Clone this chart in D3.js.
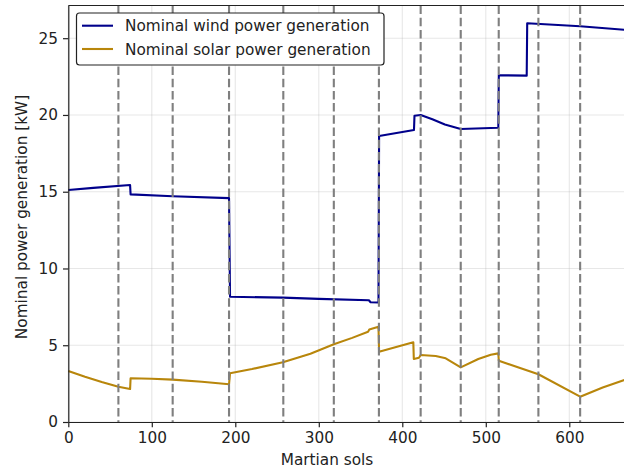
<!doctype html>
<html lang=en>
<head>
  <meta charset="utf-8">
  <title>Nominal power generation</title>
  <style>
body {
  margin: 0;
  background: white;
}
svg text {
  font-family: "DejaVu Sans", sans-serif;
  fill: #222;
}
  </style>
</head>
<body>
<div id=content></div>

<script src="https://cdnjs.cloudflare.com/ajax/libs/d3/7.8.5/d3.min.js"></script>
<script>

  // wind power, sols and kW (vertical jumps are two points at almost the same sol)
  var windSols = [0, 30, 74, 74.6, 125, 192.5, 193.7, 257, 300, 360, 362, 371.5, 372.2, 414, 414.6, 422, 436, 451, 470, 515, 515.6, 549, 549.6, 613, 669];
  var windKW   = [15.11, 15.25, 15.44, 14.83, 14.70, 14.58, 8.16, 8.10, 8.02, 7.93, 7.80, 7.78, 18.63, 19.02, 19.95, 20.0, 19.72, 19.38, 19.09, 19.17, 22.59, 22.56, 25.97, 25.78, 25.54];

  // solar power
  var solarSols = [0, 20, 40, 60, 74, 74.6, 100, 125, 160, 192.5, 193.7, 220, 257, 290, 318, 340, 359, 360.5, 371.5, 372.2, 413.2, 413.8, 420, 422, 440, 452, 470, 491, 506, 515, 515.6, 563, 613, 640, 669];
  var solarKW   = [3.32, 2.94, 2.60, 2.30, 2.15, 2.85, 2.82, 2.76, 2.62, 2.46, 3.18, 3.45, 3.89, 4.45, 5.06, 5.48, 5.88, 6.02, 6.21, 4.57, 5.19, 4.10, 4.18, 4.36, 4.30, 4.15, 3.56, 4.10, 4.38, 4.47, 3.99, 3.11, 1.65, 2.25, 2.80];

  // month boundaries (sols)
  var monthSols = [60, 125, 192.5, 257.5, 318, 372, 422, 470, 515.5, 563, 613];

  var xTicks = [0, 100, 200, 300, 400, 500, 600];
  var yTicks = [0, 5, 10, 15, 20, 25];

  var seriesNames = ["Nominal wind power generation", "Nominal solar power generation"];
  var seriesColors = ["darkblue", "darkgoldenrod"];

  var W = 624, H = 468;
  // plot box: left, top, right, bottom
  var pL = 68.3, pT = 5.5, pR = 626.9, pB = 422;

  var svg = d3.select("#content").append("svg")
      .attr("width", W)
      .attr("height", H);

  var x = d3.scaleLinear().domain([0, 669]).range([pL, pR]);
  var y = d3.scaleLinear().domain([0, 27.13]).range([pB, pT]);

  // grid
  var grid = svg.append("g");
  grid.selectAll(".gx").data(xTicks).join("line")
      .attr("x1", d => x(d)).attr("x2", d => x(d))
      .attr("y1", pT).attr("y2", pB)
      .attr("stroke", "#b0b0b0").attr("stroke-opacity", 0.3).attr("stroke-width", 1.1);
  grid.selectAll(".gy").data(yTicks).join("line")
      .attr("x1", pL).attr("x2", pR)
      .attr("y1", d => y(d)).attr("y2", d => y(d))
      .attr("stroke", "#b0b0b0").attr("stroke-opacity", 0.3).attr("stroke-width", 1.1);

  var wind = windSols.map((s, i) => [s, windKW[i]]);
  var solar = solarSols.map((s, i) => [s, solarKW[i]]);

  var line = d3.line()
      .x(d => x(d[0]))
      .y(d => y(d[1]));

  var lines = svg.append("g");
  [wind, solar].forEach(function(d, i){
    lines.append("path")
        .attr("d", line(d))
        .attr("fill", "none")
        .attr("stroke", seriesColors[i])
        .attr("stroke-width", 2.1)
        .attr("stroke-linejoin", "round");
  });

  // dashed month lines on top
  svg.append("g").selectAll("line").data(monthSols).join("line")
      .attr("x1", d => x(d)).attr("x2", d => x(d))
      .attr("y1", pT).attr("y2", pB)
      .attr("stroke", "#7f7f7f")
      .attr("stroke-width", 2.1)
      .attr("stroke-dasharray", "8.5,3.7");

  // axes
  var xaxis = d3.axisBottom(x).tickValues(xTicks).tickSize(5.3).tickPadding(5).tickSizeOuter(0);
  var gx = svg.append("g")
      .attr("transform", "translate(0," + pB + ")")
      .call(xaxis);
  var yaxis = d3.axisLeft(y).tickValues(yTicks).tickSize(5.3).tickPadding(5).tickSizeOuter(0);
  var gy = svg.append("g")
      .attr("transform", "translate(" + pL + ",0)")
      .call(yaxis);

  [gx, gy].forEach(function(g){
    g.select(".domain").attr("stroke", "#222").attr("stroke-width", 1.2);
    g.selectAll(".tick line").attr("stroke", "#222").attr("stroke-width", 1.2);
    g.selectAll(".tick text")
        .attr("font-family", "DejaVu Sans")
        .attr("font-size", 15.3)
        .attr("fill", "#222");
  });

  // top spine
  svg.append("line")
      .attr("x1", pL).attr("x2", pR)
      .attr("y1", pT).attr("y2", pT)
      .attr("stroke", "#222").attr("stroke-width", 1.2);

  svg.append("text")
      .attr("x", 327).attr("y", 465)
      .attr("text-anchor", "middle")
      .attr("font-size", 15.3)
      .text("Martian sols");

  svg.append("text")
      .attr("transform", "translate(27,217) rotate(-90)")
      .attr("text-anchor", "middle")
      .attr("font-size", 15.3)
      .text("Nominal power generation [kW]");

  // legend
  var lg = svg.append("g");
  lg.append("rect")
      .attr("x", 76.5).attr("y", 13)
      .attr("width", 307.5).attr("height", 52)
      .attr("rx", 3)
      .attr("fill", "white")
      .attr("stroke", "#222")
      .attr("stroke-width", 1.2);
  seriesNames.forEach(function(name, i){
    var ly = 25.7 + i * 23.3;
    lg.append("line")
        .attr("x1", 82).attr("x2", 113)
        .attr("y1", ly).attr("y2", ly)
        .attr("stroke", seriesColors[i])
        .attr("stroke-width", 2.1);
    lg.append("text")
        .attr("x", 125).attr("y", ly + 5.5)
        .attr("font-size", 15.3)
        .text(name);
  });

</script>
</body>
</html>
